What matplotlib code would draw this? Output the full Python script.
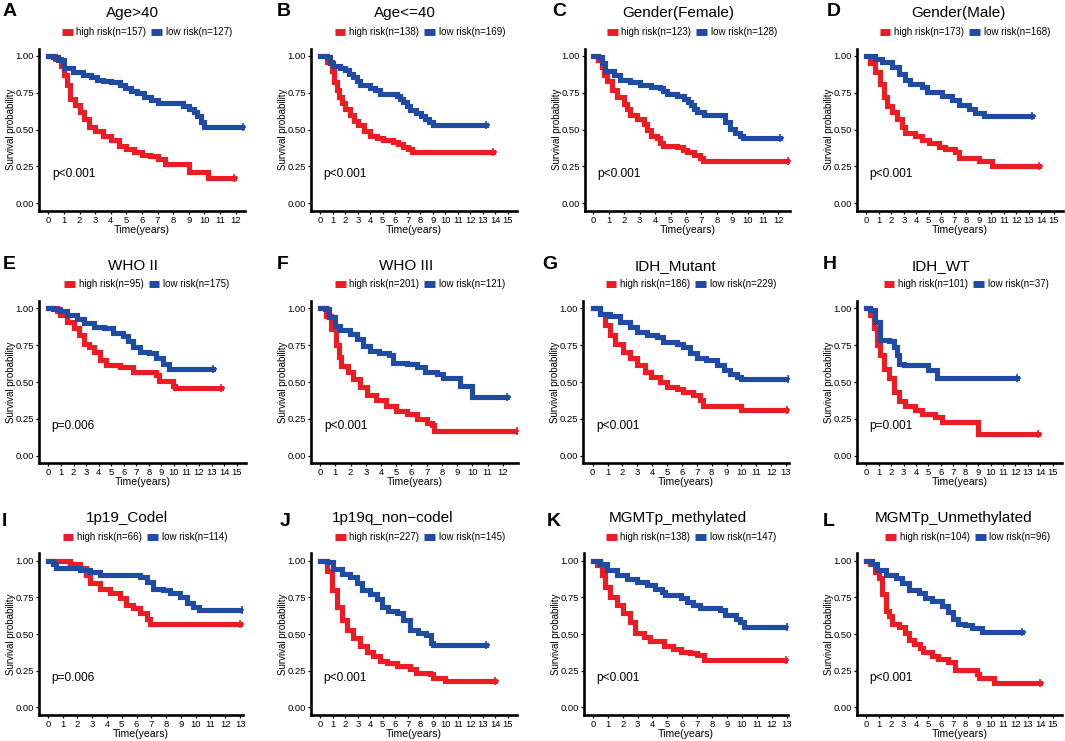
import numpy as np
import matplotlib
matplotlib.use("Agg")
import matplotlib.pyplot as plt
from matplotlib.lines import Line2D

plt.rcParams['font.family'] = ['Liberation Sans', 'DejaVu Sans']

RED = "#EC1C24"
BLUE = "#1F4BA3"

# ---- data: (time in years, survival probability) knots ----
letters = list("ABCDEFGHIJKL")
titles = ["Age>40", "Age<=40", "Gender(Female)", "Gender(Male)",
          "WHO II", "WHO III", "IDH_Mutant", "IDH_WT",
          "1p19_Codel", "1p19q_non\u2212codel", "MGMTp_methylated", "MGMTp_Unmethylated"]
n_high = [157, 138, 123, 173, 95, 201, 186, 101, 66, 227, 138, 104]
n_low = [127, 169, 128, 168, 175, 121, 229, 37, 114, 145, 147, 96]
p_text = ["p<0.001", "p<0.001", "p<0.001", "p<0.001", "p=0.006", "p<0.001",
          "p<0.001", "p=0.001", "p=0.006", "p<0.001", "p<0.001", "p<0.001"]
x_tick_max = [12, 15, 12, 15, 15, 12, 13, 15, 13, 15, 13, 15]

A_high = [(0,1.0),(0.4,0.98),(0.8,0.93),(1.0,0.87),(1.2,0.80),(1.4,0.71),(1.7,0.67),(2.0,0.62),(2.3,0.57),(2.6,0.52),(3.0,0.49),(3.5,0.46),(4.0,0.43),(4.5,0.39),(5.0,0.37),(5.5,0.35),(6.0,0.33),(6.5,0.32),(7.0,0.30),(7.5,0.27),(9.0,0.21),(10.2,0.175),(11.9,0.175)]
A_low = [(0,1.0),(0.3,0.99),(0.6,0.97),(1.0,0.92),(1.6,0.89),(2.25,0.87),(2.7,0.855),(3.1,0.84),(3.5,0.83),(4.0,0.82),(4.6,0.80),(4.9,0.78),(5.3,0.765),(5.7,0.75),(6.1,0.72),(6.6,0.70),(7.0,0.68),(8.6,0.66),(9.0,0.64),(9.3,0.62),(9.5,0.59),(9.75,0.55),(10.0,0.52),(12.5,0.52)]
B_high = [(0,1.0),(0.5,0.96),(0.9,0.90),(1.1,0.82),(1.3,0.77),(1.5,0.72),(1.7,0.68),(2.0,0.64),(2.35,0.60),(2.7,0.56),(3.0,0.53),(3.5,0.49),(4.0,0.46),(4.5,0.44),(5.0,0.43),(5.8,0.415),(6.2,0.40),(6.6,0.38),(7.0,0.37),(7.3,0.35),(13.85,0.35)]
B_low = [(0,1.0),(0.5,0.99),(0.75,0.95),(1.0,0.93),(1.6,0.92),(2.0,0.905),(2.3,0.88),(2.6,0.86),(2.9,0.83),(3.15,0.80),(4.0,0.785),(4.4,0.77),(4.75,0.745),(6.1,0.73),(6.4,0.71),(6.6,0.69),(6.9,0.66),(7.2,0.63),(7.7,0.61),(8.1,0.59),(8.4,0.57),(8.7,0.55),(9.0,0.53),(13.3,0.53)]
C_high = [(0,1.0),(0.3,0.97),(0.54,0.925),(0.7,0.87),(0.86,0.83),(1.2,0.77),(1.5,0.72),(1.95,0.675),(2.2,0.64),(2.4,0.60),(2.8,0.57),(3.25,0.54),(3.5,0.50),(3.7,0.46),(4.1,0.44),(4.3,0.41),(4.5,0.39),(5.4,0.38),(5.8,0.36),(6.05,0.35),(6.5,0.325),(6.9,0.31),(7.1,0.29),(12.65,0.29)]
C_low = [(0,1.0),(0.3,0.99),(0.55,0.95),(0.75,0.90),(1.3,0.87),(1.7,0.835),(2.4,0.825),(3.0,0.80),(3.7,0.79),(4.3,0.78),(4.5,0.76),(4.75,0.745),(5.4,0.73),(5.85,0.71),(6.1,0.69),(6.3,0.665),(6.5,0.64),(6.7,0.62),(7.15,0.60),(8.2,0.60),(8.55,0.55),(8.85,0.505),(9.2,0.48),(9.5,0.46),(9.7,0.44),(12.1,0.44)]
D_high = [(0,1.0),(0.3,0.95),(0.7,0.89),(1.1,0.81),(1.4,0.72),(1.65,0.66),(2.05,0.62),(2.45,0.57),(2.85,0.52),(3.1,0.48),(3.9,0.46),(4.45,0.43),(5.0,0.41),(5.8,0.38),(6.3,0.37),(7.1,0.35),(7.4,0.31),(9.0,0.29),(10.05,0.256),(13.8,0.256)]
D_low = [(0,1.0),(0.7,0.98),(1.25,0.96),(2.05,0.925),(2.6,0.88),(3.1,0.835),(3.5,0.81),(4.45,0.79),(4.85,0.755),(6.05,0.73),(6.85,0.70),(7.4,0.665),(8.2,0.64),(8.7,0.61),(9.4,0.595),(9.7,0.59),(13.25,0.59)]
E_high = [(0,1.0),(0.65,0.98),(0.9,0.955),(1.45,0.91),(2.0,0.865),(2.4,0.82),(2.8,0.76),(3.2,0.74),(3.6,0.705),(4.1,0.65),(4.6,0.615),(5.7,0.60),(6.75,0.57),(8.6,0.55),(8.85,0.51),(9.9,0.47),(10.1,0.46),(13.75,0.46)]
E_low = [(0,1.0),(0.4,0.995),(0.9,0.98),(1.45,0.955),(2.25,0.93),(2.8,0.90),(3.6,0.875),(4.4,0.865),(5.15,0.83),(5.95,0.81),(6.35,0.775),(6.75,0.74),(7.3,0.705),(8.05,0.695),(8.6,0.66),(9.1,0.625),(9.65,0.59),(13.1,0.59)]
F_high = [(0,1.0),(0.4,0.95),(0.73,0.86),(1.05,0.75),(1.25,0.67),(1.4,0.61),(1.8,0.57),(2.15,0.52),(2.6,0.465),(3.05,0.41),(3.7,0.375),(4.35,0.34),(5.0,0.305),(5.7,0.28),(6.35,0.25),(7.0,0.225),(7.35,0.205),(7.45,0.17),(12.95,0.17)]
F_low = [(0,1.0),(0.3,0.995),(0.6,0.94),(0.95,0.88),(1.3,0.85),(1.95,0.825),(2.4,0.79),(2.8,0.745),(3.25,0.71),(3.9,0.70),(4.5,0.68),(4.8,0.63),(5.7,0.62),(6.35,0.60),(6.9,0.565),(7.7,0.555),(8.1,0.53),(9.0,0.53),(9.2,0.475),(10.0,0.40),(12.3,0.40)]
G_high = [(0,1.0),(0.5,0.965),(0.83,0.885),(1.15,0.82),(1.5,0.76),(2.05,0.705),(2.5,0.66),(2.95,0.615),(3.5,0.57),(3.95,0.535),(4.5,0.50),(5.0,0.465),(5.65,0.455),(6.1,0.43),(6.75,0.41),(7.2,0.375),(7.45,0.34),(10.0,0.31),(13.05,0.31)]
G_low = [(0,1.0),(0.5,0.965),(1.15,0.945),(1.85,0.91),(2.5,0.875),(2.95,0.84),(3.65,0.82),(4.3,0.805),(4.75,0.77),(5.65,0.76),(6.1,0.74),(6.55,0.695),(7.0,0.66),(7.65,0.65),(8.35,0.615),(8.8,0.58),(9.25,0.555),(9.7,0.535),(10.0,0.52),(13.15,0.52)]
H_high = [(0,1.0),(0.3,0.955),(0.6,0.865),(0.85,0.75),(1.1,0.68),(1.4,0.59),(1.8,0.525),(2.2,0.435),(2.6,0.37),(3.15,0.335),(3.95,0.31),(4.5,0.28),(5.55,0.265),(6.1,0.23),(9.0,0.15),(13.85,0.15)]
H_low = [(0,1.0),(0.3,0.99),(0.7,0.91),(1.1,0.785),(1.8,0.775),(2.2,0.74),(2.45,0.685),(2.6,0.625),(3.0,0.615),(5.0,0.58),(5.7,0.53),(12.1,0.53)]
I_high = [(0,1.0),(1.0,0.995),(1.5,0.98),(2.15,0.95),(2.6,0.90),(2.85,0.845),(3.5,0.81),(4.2,0.78),(4.85,0.745),(5.3,0.70),(5.75,0.675),(6.2,0.64),(6.7,0.605),(6.9,0.57),(13.0,0.57)]
I_low = [(0,1.0),(0.35,0.975),(0.55,0.95),(2.15,0.935),(2.85,0.92),(3.5,0.90),(6.2,0.89),(6.7,0.855),(7.1,0.81),(7.8,0.80),(8.25,0.78),(8.95,0.755),(9.4,0.71),(9.85,0.685),(10.2,0.665),(13.1,0.665)]
J_high = [(0,1.0),(0.5,0.93),(0.9,0.80),(1.3,0.685),(1.7,0.595),(2.1,0.53),(2.6,0.47),(3.15,0.415),(3.7,0.38),(4.2,0.35),(4.75,0.315),(5.3,0.30),(6.1,0.285),(7.15,0.26),(7.7,0.235),(8.75,0.225),(9.0,0.20),(9.95,0.18),(14.0,0.18)]
J_low = [(0,1.0),(0.5,0.99),(1.0,0.945),(1.7,0.91),(2.35,0.89),(2.9,0.845),(3.3,0.80),(3.95,0.77),(4.5,0.74),(4.9,0.685),(5.4,0.66),(6.1,0.64),(6.6,0.595),(7.15,0.53),(7.85,0.505),(8.5,0.495),(8.9,0.44),(9.0,0.425),(13.3,0.425)]
K_high = [(0,1.0),(0.27,0.97),(0.6,0.90),(0.83,0.82),(1.15,0.755),(1.6,0.70),(2.05,0.64),(2.5,0.585),(2.85,0.505),(3.4,0.48),(3.85,0.45),(4.75,0.415),(5.4,0.40),(5.9,0.38),(6.55,0.37),(7.0,0.355),(7.45,0.32),(12.95,0.32)]
K_low = [(0,1.0),(0.5,0.98),(0.95,0.935),(1.6,0.90),(2.3,0.875),(2.95,0.855),(3.65,0.835),(4.2,0.81),(4.65,0.79),(4.85,0.765),(5.9,0.745),(6.3,0.72),(6.75,0.70),(7.2,0.675),(8.55,0.665),(8.9,0.63),(9.6,0.605),(9.9,0.585),(10.15,0.55),(13.05,0.55)]
L_high = [(0,1.0),(0.3,0.98),(0.7,0.925),(1.0,0.88),(1.25,0.77),(1.55,0.66),(1.8,0.625),(2.05,0.57),(2.6,0.55),(3.15,0.505),(3.4,0.46),(3.8,0.43),(4.35,0.405),(4.6,0.375),(5.3,0.35),(5.8,0.33),(6.6,0.31),(7.15,0.255),(8.9,0.23),(9.05,0.20),(10.25,0.165),(14.0,0.165)]
L_low = [(0,1.0),(0.45,0.98),(0.85,0.935),(1.55,0.90),(2.35,0.88),(2.85,0.845),(3.4,0.80),(4.2,0.78),(4.75,0.745),(5.3,0.725),(6.1,0.69),(6.6,0.65),(7.0,0.605),(7.4,0.57),(7.95,0.56),(8.5,0.54),(9.3,0.515),(12.5,0.515)]

high_curves = [A_high, B_high, C_high, D_high, E_high, F_high, G_high, H_high, I_high, J_high, K_high, L_high]
low_curves = [A_low, B_low, C_low, D_low, E_low, F_low, G_low, H_low, I_low, J_low, K_low, L_low]

# ---- layout (pixels of the 1065x741 canvas) ----
W, H = 1065, 741
row_top = [48.6, 301, 553.4]
row_bot = [210.7, 463, 714.6]
title_y = [13, 266, 518]
legend_y = [32, 284, 537]
letter_y = [12, 265, 522]
col_lr = [(39, 245), (311, 517), (585, 790), (857, 1063),
          (39, 246), (311, 518), (583, 789), (857, 1062),
          (39, 243), (311, 517), (584, 788), (857, 1062)]
xlims = [(-0.6, 12.6), (-0.75, 15.75), (-0.55, 12.75), (-0.75, 15.75),
         (-0.75, 15.75), (-0.6, 13.0), (-0.65, 13.2), (-0.75, 15.75),
         (-0.6, 13.2), (-0.75, 15.75), (-0.6, 13.1), (-0.75, 15.75)]
title_x = [132, 405, 678, 958, 133, 406, 675, 941, 127, 393, 678, 954]
legend_x = [147, 420, 692, 965, 147, 420, 691, 966, 145, 420, 691, 968]
letter_x = [3, 277, 552, 827, 3, 277, 542, 823, 2, 280, 547, 823]

fig = plt.figure(figsize=(W / 100, H / 100), dpi=100)


def step_xy(curve):
    t = [p[0] for p in curve]
    s = [p[1] for p in curve]
    return t, s


for i in range(12):
    r = i // 4
    left, right = col_lr[i]
    ax = fig.add_axes([left / W, 1 - row_bot[r] / H, (right - left) / W, (row_bot[r] - row_top[r]) / H])

    for curve, col in [(high_curves[i], RED), (low_curves[i], BLUE)]:
        t, s = step_xy(curve)
        ax.step(t, s, where="post", color=col, lw=3.7, solid_joinstyle="miter")
        ax.plot(t[-1], s[-1], marker="+", color=col, ms=5.5, mew=1.2)

    ax.set_xlim(*xlims[i])
    ax.set_ylim(-0.05, 1.05)
    ax.set_xticks(range(0, x_tick_max[i] + 1))
    ax.set_yticks([0, 0.25, 0.5, 0.75, 1.0])
    ax.set_yticklabels(["0.00", "0.25", "0.50", "0.75", "1.00"])
    ax.tick_params(labelsize=6.8, length=2.5, width=0.9, pad=1.2, colors="black")
    for sp in ["top", "right"]:
        ax.spines[sp].set_visible(False)
    for sp in ["left", "bottom"]:
        ax.spines[sp].set_linewidth(1.9)
    ax.set_xlabel("Time(years)", fontsize=7.6, labelpad=0.2)
    ax.set_ylabel("Survival probability", fontsize=7, labelpad=-0.5)
    ax.text(0.25, 0.2, p_text[i], fontsize=8.6, va="center", ha="left")

    handles = [Line2D([0], [0], color=RED, lw=5, solid_capstyle="butt"),
               Line2D([0], [0], color=BLUE, lw=5, solid_capstyle="butt")]
    labels = [f"high risk(n={n_high[i]})", f"low risk(n={n_low[i]})"]
    fig.legend(handles, labels, loc="center", ncol=2, frameon=False, fontsize=7,
               bbox_to_anchor=(legend_x[i] / W, 1 - legend_y[r] / H),
               handlelength=1.1, handletextpad=0.4, columnspacing=0.5,
               borderpad=0, borderaxespad=0)

    fig.text(title_x[i] / W, 1 - title_y[r] / H, titles[i], fontsize=11,
             ha="center", va="center")
    fig.text(letter_x[i] / W, 1 - letter_y[r] / H, letters[i], fontsize=14,
             fontweight="bold", ha="left", va="center")

fig.savefig("out.png", dpi=100)
